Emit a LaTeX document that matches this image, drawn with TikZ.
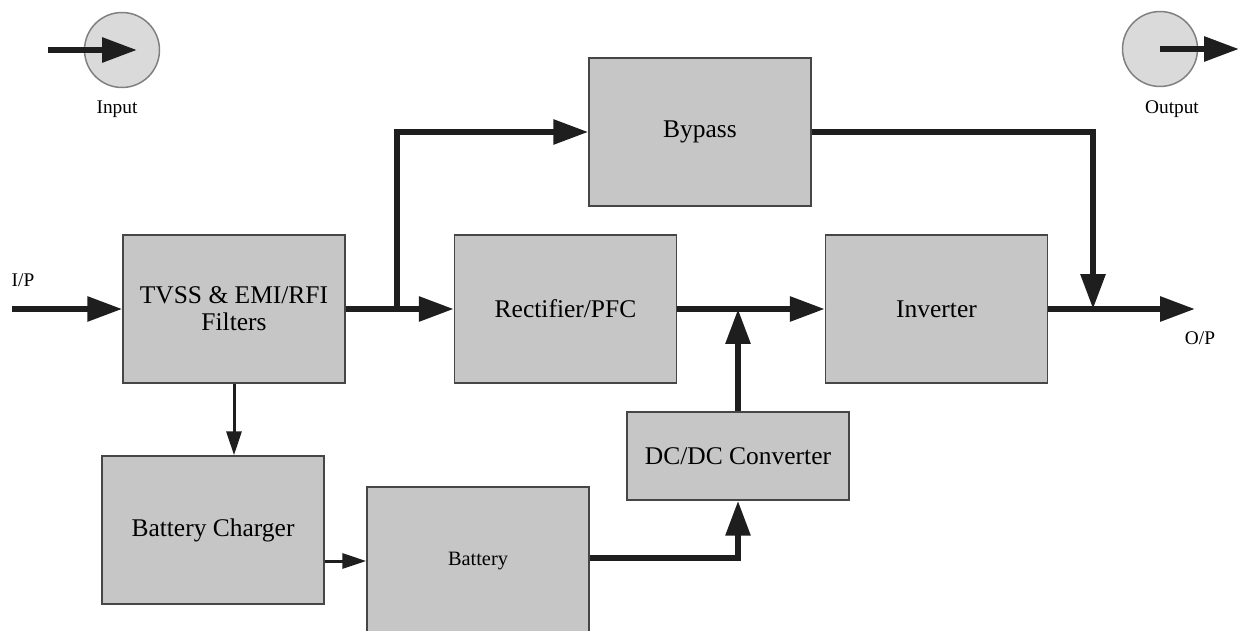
\documentclass[tikz,border=0pt]{standalone}
\usepackage{fontspec}
\setmainfont{Liberation Serif}
\usetikzlibrary{arrows.meta}

\definecolor{boxgrey}{RGB}{198,198,198}
\definecolor{ringgrey}{RGB}{218,218,218}
\definecolor{edgegrey}{RGB}{70,70,70}
\definecolor{wiregrey}{RGB}{30,30,30}

\tikzset{
  block/.style={draw=edgegrey, line width=0.03cm, fill=boxgrey,
    minimum width=4.44cm, minimum height=2.96cm, inner sep=0pt,
    align=center, font=\fontsize{14.5}{15.5}\selectfont},
  port/.style={circle, draw=gray, fill=ringgrey, line width=0.03cm,
    minimum size=1.5cm, inner sep=0pt},
  lbl/.style={font=\fontsize{11}{13}\selectfont},
  bigarrow/.style={draw=wiregrey, line width=0.12cm,
    -{Triangle[length=0.7cm,width=0.48cm]}},
  thinarrow/.style={draw=wiregrey, line width=0.06cm,
    -{Triangle[length=0.48cm,width=0.3cm]}},
}

\begin{document}
\begin{tikzpicture}[x=0.02cm, y=-0.02cm]
      \useasboundingbox (0,0) rectangle (1239,631);

      % LEGEND
      % input
      \node[port] (incirc) at (122,50) {};
      \coordinate (inbeg) at (48,50);
      \coordinate (intip) at (137,50);
      \node[lbl] (inlbl) at (117,109) {Input};
      \draw[bigarrow] (inbeg) -- (intip);

      % output
      \node[port] (outcirc) at (1160,49) {};
      \coordinate (outend) at (1239,49);
      \node[lbl] (outlbl) at (1172,109) {Output};
      \draw[bigarrow] (outcirc.center) -- (outend);

      % BLOCKS
      \node[block] (tvss)    at (234,309)   {TVSS \& EMI/RFI\\Filters};
      \node[block] (rect)    at (565.5,309) {Rectifier/PFC};
      \node[block] (inv)     at (936.5,309) {Inverter};
      \node[block] (bypass)  at (700,132)   {Bypass};
      \node[block, minimum height=1.76cm] (dcdc) at (738,456) {DC/DC Converter};
      \node[block] (charger) at (213,530)   {Battery Charger};
      \node[block, font=\fontsize{11.6}{13}\selectfont] (battery) at (478,561) {Battery};

      % ports of the main line
      \coordinate (ip)    at (12,309);
      \coordinate (op)    at (1195,309);
      \coordinate (split) at (397,309);
      \coordinate (join)  at (738,309);
      \coordinate (merge) at (1093,309);
      \node[lbl] (iplbl) at (23,280)  {I/P};
      \node[lbl] (oplbl) at (1200,338) {O/P};

      % ARROWS
      \draw[bigarrow] (ip) -- (tvss.west);
      \draw[bigarrow] (tvss.east) -- (rect.west);
      \draw[bigarrow] (split) |- (bypass.west);
      \draw[bigarrow] (rect.east) -- (inv.west);
      \draw[bigarrow] (inv.east) -- (op);
      \draw[bigarrow] (bypass.east) -| (merge);
      \draw[bigarrow] (dcdc.north) -- (join);
      \draw[bigarrow] (battery.east |- 0,558) -| (dcdc.south);
      \draw[thinarrow] (tvss.south) -- (tvss.south |- charger.north);
      \draw[thinarrow] (charger.east |- battery.west) -- (battery.west);
\end{tikzpicture}
\end{document}
